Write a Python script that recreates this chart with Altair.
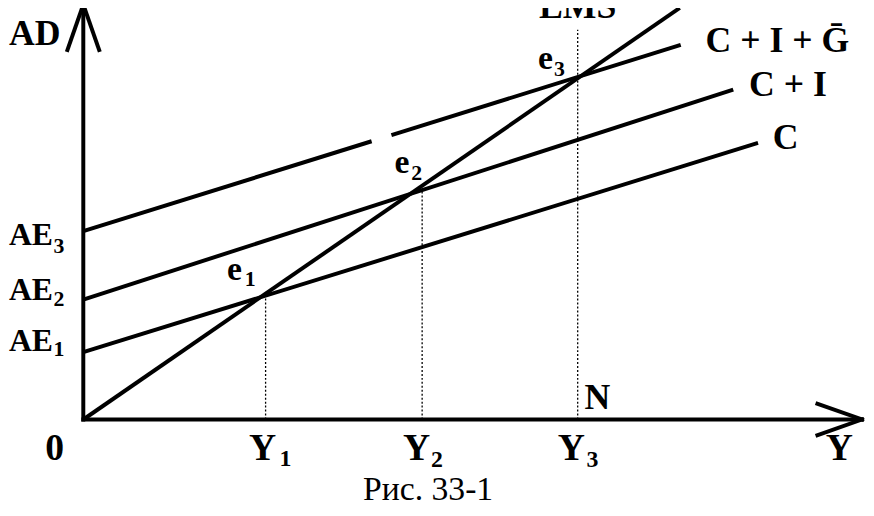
import altair as alt
import pandas as pd

# ---- chart values (data units: Y on the horizontal axis, AD on the vertical) ----
# straight schedules: LMS (45-degree line), C, C + I, C + I + G (drawn in two pieces, as in the scan)
seg_name = ["LMS", "C", "C + I", "C + I + G", "C + I + G"]
seg_x1 = [0.0, 0.0, 0.0, 0.0, 62.2]
seg_y1 = [0.0, 19.7, 35.1, 55.1, 83.2]
seg_x2 = [120.4, 136.2, 131.2, 58.2, 120.6]
seg_y2 = [120.4, 80.9, 96.5, 81.4, 109.6]

# equilibrium points and their dotted guides down to the Y axis
eq_name = ["e1", "e2", "e3"]
eq_Y = [36.8, 68.4, 99.8]
eq_AD = [36.5, 67.5, 100.9]
guide_top = [36.5, 67.5, 114.0]

# axis arrows (tip and wing ends)
axis_x1 = [0.0, 0.0, 0.0, 0.0, 157.2, 157.2]
axis_y1 = [0.0, 121.4, 121.4, 0.0, 0.0, 0.0]
axis_x2 = [0.0, -3.2, 3.2, 157.2, 148.2, 148.2]
axis_y2 = [121.4, 108.1, 108.1, 0.0, 4.6, -4.6]

# ---- layout ----
W, H = 866, 500
PX_U, PX_V = 5.0, 3.45          # pixels per data unit
OX, OY = 84 - 8, 421 - 8        # origin inside the drawing area
xs = alt.Scale(domain=[-OX / PX_U, (W - OX) / PX_U], nice=False, zero=False)
ys = alt.Scale(domain=[(OY - H) / PX_V, OY / PX_V], nice=False, zero=False)

FONT = "Liberation Serif"

segs = pd.DataFrame({"n": seg_name, "x1": seg_x1, "y1": seg_y1, "x2": seg_x2, "y2": seg_y2})
axes = pd.DataFrame({"x1": axis_x1, "y1": axis_y1, "x2": axis_x2, "y2": axis_y2})
guides = pd.DataFrame({"n": eq_name, "x": eq_Y, "y0": [0.0] * 3, "y1": guide_top})


def rules(df, **kw):
    return alt.Chart(df).mark_rule(color="black", **kw).encode(
        x=alt.X("x1:Q", scale=xs, axis=None),
        y=alt.Y("y1:Q", scale=ys, axis=None),
        x2="x2:Q",
        y2="y2:Q",
    )


lines = rules(segs, strokeWidth=4)
axis_lines = rules(axes, strokeWidth=4, strokeCap="square")
dotted = alt.Chart(guides).mark_rule(color="black", strokeWidth=1.3, strokeDash=[2, 2]).encode(
    x=alt.X("x:Q", scale=xs, axis=None),
    y=alt.Y("y0:Q", scale=ys, axis=None),
    y2="y1:Q",
)

# ---- labels ----
left_labels = pd.DataFrame([
    ("AD", -15.0, 109.6, 36),
    ("AE", -15.0, 51.0, 32), ("3", -6.0, 48.6, 22),
    ("AE", -15.0, 35.1, 32), ("2", -6.0, 33.2, 22),
    ("AE", -15.0, 20.0, 32), ("1", -6.0, 18.7, 22),
    ("e", 29.0, 40.9, 34), ("1", 32.6, 39.0, 22),
    ("e", 62.8, 72.2, 34), ("2", 66.2, 70.2, 22),
    ("e", 91.8, 102.6, 34), ("3", 95.0, 100.6, 22),
    ("C + I + Ḡ", 125.6, 107.5, 36),
    ("C + I", 134.4, 94.5, 36),
    ("C", 139.2, 79.1, 36),
    ("N", 101.2, 3.2, 36),
    ("1", 39.6, -13.6, 24), ("2", 70.2, -13.8, 24), ("3", 101.6, -13.8, 24),
], columns=["t", "x", "y", "s"])

center_labels = pd.DataFrame([
    ("LMS", 99.8, 117.4, 36),
    ("0", -5.8, -11.9, 38),
    ("Y", 36.2, -11.9, 38),
    ("Y", 67.3, -11.9, 38),
    ("Y", 98.5, -11.9, 38),
    ("Y", 152.6, -11.9, 38),
], columns=["t", "x", "y", "s"])

caption = pd.DataFrame([("Рис. 33-1", 69.6, -23.6, 34)], columns=["t", "x", "y", "s"])


def texts(df, align, weight):
    return alt.Chart(df).mark_text(
        align=align, baseline="alphabetic", font=FONT, fontWeight=weight, color="black"
    ).encode(
        x=alt.X("x:Q", scale=xs, axis=None),
        y=alt.Y("y:Q", scale=ys, axis=None),
        text="t:N",
        size=alt.Size("s:Q", scale=None, legend=None),
    )


chart = alt.layer(
    dotted,
    lines,
    axis_lines,
    texts(left_labels, "left", "bold"),
    texts(center_labels, "center", "bold"),
    texts(caption, "center", "normal"),
).properties(
    width=W, height=H, padding=0, autosize="none", background="white"
).configure_view(stroke=None)

chart.save("out.html", embed_options={"renderer": "svg", "actions": False})
